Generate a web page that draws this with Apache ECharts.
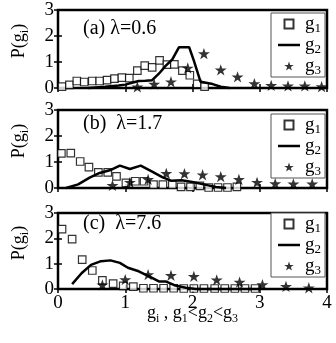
<!DOCTYPE html>
<html>
<head>
<meta charset="utf-8">
<script src="https://cdn.jsdelivr.net/npm/echarts@6/dist/echarts.min.js"></script>
<style>
  html, body { margin: 0; padding: 0; background: #fff; }
  #chart { width: 336px; height: 343px; }
</style>
</head>
<body>
<div id="chart"></div>
<script>
// panel (a) lambda = 0.6
const aG1X = [0.06, 0.17, 0.28, 0.39, 0.51, 0.62, 0.73, 0.84, 0.95, 1.06, 1.18, 1.29, 1.40, 1.51, 1.62, 1.73, 1.85, 1.96, 2.07, 2.18]
const aG1Y = [0.05, 0.12, 0.27, 0.23, 0.27, 0.27, 0.30, 0.36, 0.40, 0.38, 0.67, 0.86, 0.79, 1.06, 0.90, 0.91, 0.67, 0.49, 0.16, 0.05]
const aG2X = [0.45, 0.70, 0.90, 1.00, 1.10, 1.20, 1.30, 1.40, 1.50, 1.60, 1.70, 1.80, 1.95, 2.02, 2.12, 2.30, 2.42, 2.55]
const aG2Y = [0.00, 0.05, 0.10, 0.13, 0.20, 0.27, 0.28, 0.30, 0.55, 0.85, 1.10, 1.57, 1.57, 1.05, 0.24, 0.15, 0.05, 0.00]
const aG3X = [1.18, 1.43, 1.68, 1.93, 2.17, 2.42, 2.67, 2.92, 3.17, 3.42, 3.67, 3.92]
const aG3Y = [0.04, 0.15, 0.24, 0.77, 1.32, 0.70, 0.43, 0.17, 0.10, 0.08, 0.08, 0.05]

// panel (b) lambda = 1.7
const bG1X = [0.05, 0.19, 0.33, 0.46, 0.60, 0.74, 0.87, 1.01, 1.15, 1.28, 1.42, 1.56, 1.70, 1.83, 1.97, 2.11, 2.24, 2.38, 2.52, 2.66]
const bG1Y = [1.33, 1.34, 1.02, 0.80, 0.60, 0.60, 0.45, 0.20, 0.26, 0.26, 0.13, 0.13, 0.13, 0.04, 0.04, 0.08, 0.02, 0.02, 0.02, 0.04]
const bG2X = [0.12, 0.30, 0.47, 0.62, 0.77, 0.92, 1.07, 1.23, 1.40, 1.55, 1.68, 1.84, 2.02, 2.20, 2.35, 2.50]
const bG2Y = [0.00, 0.14, 0.40, 0.58, 0.68, 0.86, 0.73, 0.86, 0.63, 0.42, 0.28, 0.30, 0.22, 0.12, 0.04, 0.00]
const bG3X = [0.81, 1.07, 1.34, 1.61, 1.88, 2.15, 2.42, 2.69, 2.96, 3.23, 3.50, 3.78]
const bG3Y = [0.10, 0.22, 0.33, 0.56, 0.55, 0.51, 0.44, 0.33, 0.22, 0.17, 0.16, 0.16]

// panel (c) lambda = 7.6
const cG1X = [0.06, 0.21, 0.36, 0.51, 0.66, 0.82, 0.97, 1.12, 1.27, 1.42, 1.57, 1.72, 1.87, 2.02, 2.17, 2.33, 2.48, 2.63, 2.78, 2.93]
const cG1Y = [2.36, 1.97, 1.16, 0.73, 0.34, 0.21, 0.12, 0.09, 0.03, 0.03, 0.03, 0.03, 0.02, 0.02, 0.02, 0.02, 0.02, 0.02, 0.02, 0.02]
const cG2X = [0.21, 0.35, 0.49, 0.64, 0.78, 0.92, 1.04, 1.20, 1.37, 1.50, 1.60, 1.73, 1.90, 2.05, 3.00]
const cG2Y = [0.19, 0.62, 0.95, 1.10, 1.13, 1.03, 0.84, 0.70, 0.48, 0.30, 0.30, 0.15, 0.05, 0.00, 0.00]
const cG3X = [0.66, 1.00, 1.34, 1.68, 2.02, 2.36, 2.70, 3.04, 3.39, 3.73]
const cG3Y = [0.16, 0.37, 0.57, 0.54, 0.50, 0.36, 0.27, 0.17, 0.10, 0.05]

const panelLabels = ['(a) \u03bb=0.6', '(b)  \u03bb=1.7', '(c)  \u03bb=7.6']
const xTicks = ['0', '1', '2', '3', '4']
const yTicks = ['0', '1', '2', '3']
const seriesNames = ['g1', 'g2', 'g3']

const panels = [
  { g1: [aG1X, aG1Y], g2: [aG2X, aG2Y], g3: [aG3X, aG3Y] },
  { g1: [bG1X, bG1Y], g2: [bG2X, bG2Y], g3: [bG3X, bG3Y] },
  { g1: [cG1X, cG1Y], g2: [cG2X, cG2Y], g3: [cG3X, cG3Y] }
]

const FONT = 'Liberation Serif'
const SQUARE = 'path://M0,0 L10,0 L10,10 L0,10 Z'
const STAR = 'path://M50,0 L61.8,35.1 L98.9,35.1 L68.9,56.9 L80.3,92.1 L50,70.4 L19.7,92.1 L31.1,56.9 L1.1,35.1 L38.2,35.1 Z'
const DASH = 'path://M0,0 L22,0 L22,2.5 L0,2.5 Z'

const pairs = (xs, ys) => xs.map((x, i) => [x, ys[i]])

// subscript sits at the bottom of a tall line box
const makeRich = (size, lh) => {
  const sub = Math.round(size * 0.68)
  return {
    t: { fontFamily: FONT, fontSize: size, color: '#000', lineHeight: lh },
    s: { fontFamily: FONT, fontSize: sub, color: '#000', lineHeight: sub, padding: [lh - sub, 0, 0, 0] }
  }
}

const gridPos = [
  { top: 10, height: 78 },
  { top: 110, height: 78 },
  { top: 213, height: 76 }
]
const legendTop = [13, 114, 213]
const titleTop = [19, 114, 214]

const grid = [], xAxis = [], yAxis = [], series = [], legend = [], title = []

gridPos.forEach((g, i) => {
  grid.push({
    left: 56, right: 9, top: g.top, height: g.height,
    show: true, borderColor: '#000', borderWidth: 2.5, backgroundColor: 'transparent'
  })
  const tick = { inside: true, length: 4, lineStyle: { color: '#000', width: 1.5 } }
  ;['bottom', 'top'].forEach(pos => {
    xAxis.push({
      gridIndex: i, type: 'value', position: pos, min: 0, max: 4, interval: 1,
      axisLine: { show: false }, axisTick: tick, splitLine: { show: false },
      axisLabel: {
        show: pos === 'bottom' && i === 2, margin: 5,
        fontFamily: FONT, fontSize: 19, color: '#000',
        formatter: v => xTicks[v]
      },
      name: pos === 'bottom' && i === 2 ? '{t|g}{s|i}{t| , g}{s|1}{t|<g}{s|2}{t|<g}{s|3}' : '',
      nameLocation: 'middle', nameGap: 12, nameMoveOverlap: false,
      nameTextStyle: { rich: makeRich(18, 24) }
    })
  })
  ;['left', 'right'].forEach(pos => {
    yAxis.push({
      gridIndex: i, type: 'value', position: pos, min: 0, max: 3, interval: 1,
      axisLine: { show: false }, axisTick: tick, splitLine: { show: false },
      axisLabel: {
        show: pos === 'left', margin: 4,
        fontFamily: FONT, fontSize: 19, color: '#000',
        formatter: v => yTicks[v]
      },
      name: pos === 'left' ? '{t|P(g}{s|i}{t|)}' : '',
      nameLocation: 'middle', nameGap: 27, nameRotate: 90, nameMoveOverlap: false,
      nameTextStyle: { rich: makeRich(18, 23), padding: [0, 0, 0, 16] }
    })
  })

  const p = panels[i]
  series.push({
    name: 'g1', type: 'scatter', xAxisIndex: 2 * i, yAxisIndex: 2 * i,
    symbol: SQUARE, symbolSize: 7.5, symbolKeepAspect: true, clip: false,
    itemStyle: { color: '#fff', borderColor: '#000', borderWidth: 1.2 },
    data: pairs(p.g1[0], p.g1[1]), z: 3
  })
  series.push({
    name: 'g2', type: 'line', xAxisIndex: 2 * i, yAxisIndex: 2 * i,
    symbol: 'none', showSymbol: false, clip: false,
    lineStyle: { color: '#000', width: 2.5 },
    itemStyle: { color: '#000' },
    data: pairs(p.g2[0], p.g2[1]), z: 4
  })
  series.push({
    name: 'g3', type: 'scatter', xAxisIndex: 2 * i, yAxisIndex: 2 * i,
    symbol: STAR, symbolSize: 12, symbolKeepAspect: true, clip: false,
    itemStyle: { color: '#000' },
    data: pairs(p.g3[0], p.g3[1]), z: 5
  })

  legend.push({
    data: [
      { name: seriesNames[0], icon: SQUARE },
      { name: seriesNames[1], icon: DASH, itemStyle: { color: '#000', borderWidth: 0 } },
      { name: seriesNames[2], icon: STAR }
    ],
    orient: 'vertical', right: 11, top: legendTop[i],
    itemWidth: 22, itemHeight: 9, itemGap: -1,
    padding: [0, 4, 0, 7],
    borderColor: '#555', borderWidth: 1, backgroundColor: '#fff',
    selectedMode: false,
    formatter: name => '{t|g}{s|' + name.slice(1) + '}',
    textStyle: { rich: makeRich(19, 22) }
  })

  title.push({
    text: panelLabels[i], left: 83, top: titleTop[i], padding: 0,
    textStyle: { fontFamily: FONT, fontSize: 20, fontWeight: 'normal', color: '#000' }
  })
})

const chart = echarts.init(document.getElementById('chart'))
chart.setOption({
  animation: false,
  backgroundColor: '#fff',
  title, grid, xAxis, yAxis, legend, series
})
</script>
</body>
</html>
